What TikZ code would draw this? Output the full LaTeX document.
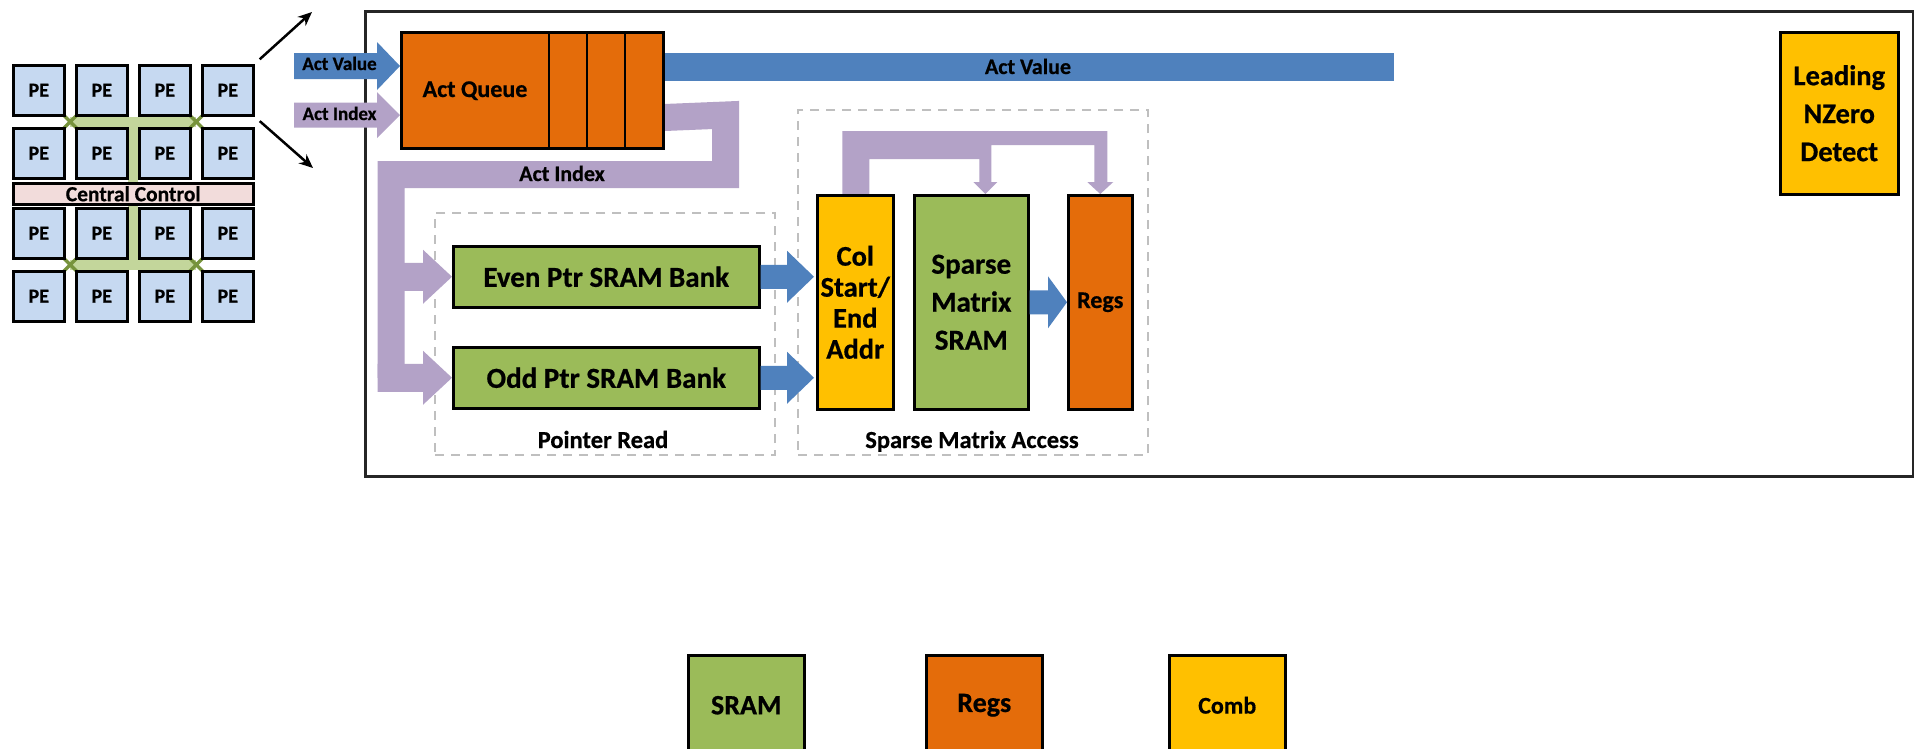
\documentclass[tikz,border=0pt]{standalone}
\usepackage{fontspec}
\setmainfont{Carlito}[BoldFeatures={FakeBold=0.6}]
\usetikzlibrary{calc,arrows.meta,backgrounds}

\definecolor{sramgreen}{HTML}{9BBB59}
\definecolor{regorange}{HTML}{E46C0A}
\definecolor{combgold}{HTML}{FFC000}
\definecolor{actblue}{HTML}{4F81BD}
\definecolor{idxlav}{HTML}{B3A2C7}
\definecolor{pefill}{HTML}{C6D9F1}
\definecolor{ctrlpink}{HTML}{F2DCDB}
\definecolor{netgreen}{HTML}{C3D69B}
\definecolor{xgreen}{HTML}{77933C}
\definecolor{grpgray}{HTML}{BFBFBF}
\definecolor{chipedge}{HTML}{262626}

\newcommand\fsz[2]{\fontsize{#1}{#2}\selectfont\bfseries}

% horizontal block arrow: colour, tail point, point giving the tip x,
% half body width, half head width, head length
\newcommand\blockarrow[6]{%
  \fill[#1] let \p1=(#2), \p2=(#3) in
    (\x1,\y1+#4) -- (\x2-#6,\y1+#4) -- (\x2-#6,\y1+#5) -- (\x2,\y1)
    -- (\x2-#6,\y1-#5) -- (\x2-#6,\y1-#4) -- (\x1,\y1-#4) -- cycle;}

\tikzset{
  unit/.style={draw=black, line width=2.5pt, inner sep=0pt, anchor=north west, align=center},
  pe/.style={unit, fill=pefill, minimum width=51pt, minimum height=50pt, font=\fsz{20}{24}},
  grp/.style={draw=grpgray, line width=2pt, dash pattern=on 9pt off 7pt, inner sep=0pt, anchor=north west},
  tag/.style={inner sep=0pt, anchor=base},
  bus/.style={idxlav, line width=27pt, line join=miter},
  ptr/.style={line width=2.5pt, -{Stealth[length=14pt,width=12pt]}},
  net/.style={netgreen, line width=10pt},
  xmark/.style={xgreen, line width=3.5pt},
}

\begin{document}
\begin{tikzpicture}[x=1pt,y=-1pt]
\clip (0,0) rectangle (1914,748);
\begin{scope}[on background layer]
  \fill[white] (0,0) rectangle (1914,748);
\end{scope}

% ---------- PE array ----------
\foreach \pr/\yy in {1/64,2/127,3/207,4/270}
  \foreach \pc/\xx in {1/12,2/75,3/138,4/201}
    \node[pe] (pe\pr\pc) at (\xx,\yy) {PE};
\node[unit, fill=ctrlpink, minimum width=240pt, minimum height=21pt, font=\fsz{21.5}{24}] (ctrl) at (12,182) {Central Control};

\begin{scope}[on background layer]
  \coordinate (n1) at ($(pe11.south east)!.5!(pe22.north west)$);
  \coordinate (n2) at ($(pe13.south east)!.5!(pe24.north west)$);
  \coordinate (n3) at ($(pe31.south east)!.5!(pe42.north west)$);
  \coordinate (n4) at ($(pe33.south east)!.5!(pe44.north west)$);
  \draw[net] (n1) -- (n2);
  \draw[net] (n3) -- (n4);
  \draw[net] ($(n1)!.5!(n2)$) -- ($(n3)!.5!(n4)$);
  \foreach \n in {n1,n2,n3,n4}
    \draw[xmark] ($(\n)+(-7,-7)$) -- ($(\n)+(7,7)$) ($(\n)+(-7,7)$) -- ($(\n)+(7,-7)$);
\end{scope}

\coordinate (fanUp) at (312,12);
\coordinate (fanDown) at (313,168);
\draw[ptr, shorten <=7pt] (pe14.north east) -- (fanUp);
\draw[ptr, shorten <=7pt] (pe14.south east) -- (fanDown);

% ---------- PE detail ----------
\node[draw=chipedge, line width=3pt, minimum width=1548pt, minimum height=465pt, inner sep=0pt, anchor=north west] (chip) at (364,10) {};

% activation queue
\node[unit, fill=regorange, minimum width=262pt, minimum height=116pt] (queue) at (400,31) {};
\foreach \dx in {149,187,225}
  \draw[line width=2.5pt] ($(queue.north west)+(\dx,0)$) -- ($(queue.south west)+(\dx,0)$);
\node[tag, font=\fsz{24}{28}] (queuetxt) at (475,97) {Act Queue};

\coordinate (avSrc) at (294,66);
\coordinate (aiSrc) at (294,115);
\blockarrow{actblue}{avSrc}{queue.west}{13pt}{24pt}{23pt}
\blockarrow{idxlav}{aiSrc}{queue.west}{12.5pt}{23pt}{23pt}
\node[tag, font=\fsz{19}{22}] (avin) at (339.5,70) {Act Value};
\node[tag, font=\fsz{19}{22}] (aiin) at (339.5,120) {Act Index};

% pointer read stage
\node[grp, minimum width=340pt, minimum height=242pt] (ptrgrp) at (434,212) {};
\node[tag, font=\fsz{24.5}{28}] (ptrlbl) at (603,448) {Pointer Read};
\node[unit, fill=sramgreen, minimum width=306pt, minimum height=61pt, font=\fsz{29}{32}] (even) at (452,245) {Even Ptr SRAM Bank};
\node[unit, fill=sramgreen, minimum width=306pt, minimum height=61pt, font=\fsz{29}{32}] (odd) at (452,346) {Odd Ptr SRAM Bank};

% sparse matrix access stage
\node[grp, minimum width=350pt, minimum height=345pt] (smagrp) at (797,109) {};
\node[tag, font=\fsz{24.5}{28}] (smalbl) at (972,448) {Sparse Matrix Access};
\node[unit, fill=combgold, minimum width=76pt, minimum height=214pt, font=\fsz{28.5}{31}] (col) at (816,194) {Col\\Start/\\End\\Addr};
\node[unit, fill=sramgreen, minimum width=114pt, minimum height=214pt, font=\fsz{29}{38}] (smsram) at (913,194) {Sparse\\Matrix\\SRAM};
\node[unit, fill=regorange, minimum width=64pt, minimum height=214pt, font=\fsz{24}{28}] (regs) at (1067,194) {Regs};

\node[unit, fill=combgold, minimum width=118pt, minimum height=162pt, font=\fsz{28.5}{38}] (lnzd) at (1779,31) {Leading\\NZero\\Detect};

% activation value and index buses
\coordinate (avEnd) at (1394,67);
\coordinate (busB) at (725.5,115);
\coordinate (busC) at (725.5,174.5);
\coordinate (busD) at (391,174.5);
\begin{scope}[on background layer]
  \draw[actblue, line width=28pt] (queue.east |- avEnd) -- (avEnd);
  \draw[bus] ($(queue.south east)+(0,-32)$) -- (busB) -- (busC) -- (busD) -- (busD |- odd.west);
  \fill[idxlav] ($(col.north)+(-13,0)$) -- ($(col.north)+(-13,-63)$)
    -- ($(regs.north)+(7,-63)$) -- ($(regs.north)+(7,-12)$) -- ($(regs.north)+(13,-12)$)
    -- (regs.north) -- ($(regs.north)+(-13,-12)$) -- ($(regs.north)+(-6,-12)$)
    -- ($(regs.north)+(-6,-49)$) -- ($(smsram.north)+(20,-49)$) -- ($(smsram.north)+(20,-12)$)
    -- ($(smsram.north)+(26,-12)$) -- ($(smsram.north)+(14,0)$) -- ($(smsram.north)+(2,-12)$)
    -- ($(smsram.north)+(8,-12)$) -- ($(smsram.north)+(8,-35)$)
    -- ($(col.north)+(14,-35)$) -- ($(col.north)+(14,0)$) -- cycle;
\end{scope}
\node[tag, font=\fsz{22}{26}] (avlbl) at (1028,74) {Act Value};
\node[tag, font=\fsz{22}{26}] (ailbl) at (562,181) {Act Index};

\blockarrow{idxlav}{busD |- even.west}{even.west}{14pt}{27pt}{29pt}
\blockarrow{idxlav}{$(busD |- odd.west)+(-13.5,0)$}{odd.west}{14pt}{27pt}{29pt}
\blockarrow{actblue}{even.east}{$(col.west)+(-2,0)$}{12pt}{26pt}{27pt}
\blockarrow{actblue}{odd.east}{$(col.west)+(-2,0)$}{12pt}{26pt}{27pt}
\blockarrow{actblue}{smsram.east}{regs.west}{12pt}{26pt}{19pt}

% ---------- legend ----------
\node[unit, fill=sramgreen, minimum width=116pt, minimum height=100pt, font=\fsz{28}{32}] (lgsram) at (687,654) {SRAM};
\node[unit, fill=regorange, minimum width=116pt, minimum height=100pt, font=\fsz{28}{32}] (lgregs) at (925,654) {Regs};
\node[unit, fill=combgold, minimum width=116pt, minimum height=100pt, font=\fsz{24}{28}] (lgcomb) at (1168,654) {Comb};
\end{tikzpicture}
\end{document}
